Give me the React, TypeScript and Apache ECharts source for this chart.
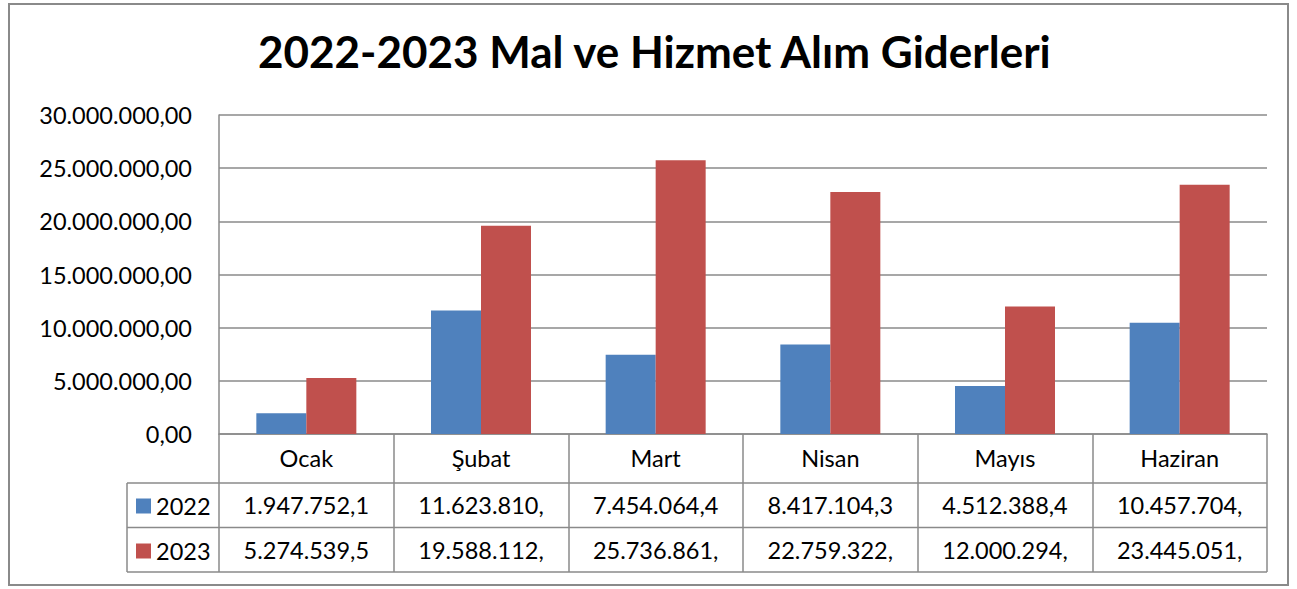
import React, { useEffect, useRef } from "react";
import * as echarts from "echarts";

const months = ["Ocak", "Şubat", "Mart", "Nisan", "Mayıs", "Haziran"];
const values2022 = [1947752.1, 11623810.0, 7454064.4, 8417104.3, 4512388.4, 10457704.0];
const values2023 = [5274539.5, 19588112.0, 25736861.0, 22759322.0, 12000294.0, 23445051.0];
const seriesNames = ["2022", "2023"];
const yMin = 0;
const yMax = 30000000;
const yInterval = 5000000;

function trFormat(v: number): string {
  const fixed = v.toFixed(2);
  const [intPart, dec] = fixed.split(".");
  const withDots = intPart.replace(/\B(?=(\d{3})+(?!\d))/g, ".");
  return withDots + "," + dec;
}
const cell = (v: number) => trFormat(v).slice(0, 11);

const FONT = "Lato";
const GRAY = "#8a8a8a";
const FS = 23.5;

export default function App() {
  const ref = useRef<HTMLDivElement>(null);
  useEffect(() => {
    if (!ref.current) return;
    const chart = echarts.init(ref.current, undefined, { renderer: "svg" });
    const plotLeft = 219;
    const plotTop = 115;
    const plotRight = 1267;
    const plotBottom = 434;
    const headerH = 49;
    const rowH = 44.5;
    const legendLeft = 127;
    const tableBottom = plotBottom + headerH + 2 * rowH;

    const hLine = (y: number, x1: number, x2: number) => ({
      type: "line",
      shape: { x1, y1: y, x2, y2: y },
      style: { stroke: GRAY, lineWidth: 1.5 },
      silent: true,
    });

    chart.setOption({
      animation: false,
      backgroundColor: "#fff",
      title: {
        text: "2022-2023 Mal ve Hizmet Alım Giderleri",
        left: 258,
        top: 29,
        padding: 0,
        textStyle: { fontFamily: FONT, fontWeight: "bold", fontSize: 44, color: "#000" },
      },
      legend: {
        data: seriesNames,
        orient: "vertical",
        left: 136,
        top: 494,
        padding: 0,
        icon: "rect",
        itemWidth: 15,
        itemHeight: 15,
        itemGap: 21,
        selectedMode: false,
        textStyle: { fontFamily: FONT, fontSize: FS, color: "#000" },
      },
      grid: {
        left: plotLeft,
        top: plotTop,
        width: plotRight - plotLeft,
        height: plotBottom - plotTop,
        containLabel: false,
      },
      xAxis: [
        {
          type: "category",
          data: months,
          position: "bottom",
          axisLine: { show: true, lineStyle: { color: GRAY, width: 1.5 } },
          axisTick: { show: true, length: tableBottom - plotBottom, interval: 0, lineStyle: { color: GRAY, width: 1.5 } },
          axisLabel: { fontFamily: FONT, fontSize: FS, color: "#000", margin: 12, interval: 0 },
        },
        {
          type: "category",
          data: months,
          position: "bottom",
          offset: headerH,
          axisLine: { show: false },
          axisTick: { show: false },
          axisLabel: {
            fontFamily: FONT, fontSize: FS, color: "#000", margin: 10, interval: 0,
            formatter: (_v: string, i: number) => cell(values2022[i]),
          },
        },
        {
          type: "category",
          data: months,
          position: "bottom",
          offset: headerH + rowH,
          axisLine: { show: false },
          axisTick: { show: false },
          axisLabel: {
            fontFamily: FONT, fontSize: FS, color: "#000", margin: 10, interval: 0,
            formatter: (_v: string, i: number) => cell(values2023[i]),
          },
        },
      ],
      yAxis: {
        type: "value",
        min: yMin,
        max: yMax,
        interval: yInterval,
        axisLine: { show: true, lineStyle: { color: GRAY, width: 1.5 } },
        axisTick: { show: false },
        splitLine: { show: true, lineStyle: { color: GRAY, width: 1.5 } },
        axisLabel: {
          fontFamily: FONT, fontSize: FS, color: "#000", margin: 27,
          formatter: (v: number) => trFormat(v),
        },
      },
      series: [
        { name: seriesNames[0], type: "bar", data: values2022, barWidth: 50, barGap: "0%", itemStyle: { color: "#4F81BD" } },
        { name: seriesNames[1], type: "bar", data: values2023, barWidth: 50, barGap: "0%", itemStyle: { color: "#C0504D" } },
      ],
      graphic: [
        {
          type: "rect",
          shape: { x: 9, y: 4, width: 1279, height: 581 },
          style: { fill: "none", stroke: GRAY, lineWidth: 2 },
          silent: true,
        },
        hLine(plotBottom + headerH, legendLeft, plotRight),
        hLine(plotBottom + headerH + rowH, legendLeft, plotRight),
        hLine(tableBottom, legendLeft, plotRight),
        {
          type: "line",
          shape: { x1: legendLeft, y1: plotBottom + headerH, x2: legendLeft, y2: tableBottom },
          style: { stroke: GRAY, lineWidth: 1.5 },
          silent: true,
        },
      ],
    });
    return () => chart.dispose();
  }, []);
  return (
    <div
      ref={ref}
      style={{ position: "absolute", left: 0, top: 0, width: 1297, height: 589 }}
    />
  );
}
